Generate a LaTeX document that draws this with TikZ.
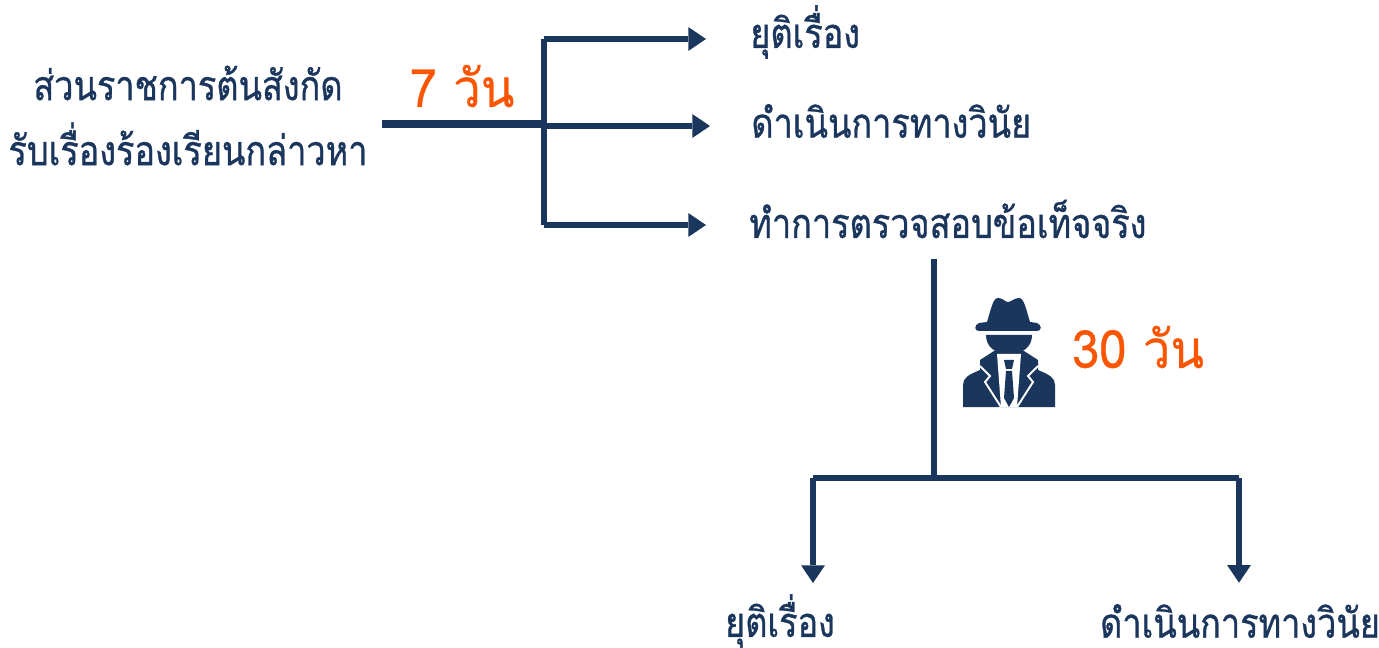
\documentclass[tikz,border=0pt]{standalone}
\usepackage{fontspec}
\newfontfamily\thaifont[Script=Thai,FakeStretch=0.83,FakeBold=0.8]{Loma}
\newfontfamily\daysfont[Script=Thai,FakeStretch=0.93,FakeBold=0.5]{Loma}
\usetikzlibrary{arrows.meta}
\definecolor{navy}{RGB}{27,54,93}
\definecolor{deadline}{RGB}{250,85,0}
\tikzset{
  label/.style={inner sep=0pt,text=navy,font=\thaifont\fontsize{23.5pt}{23.5pt}\selectfont},
  days/.style={inner sep=0pt,text=deadline,font=\daysfont\fontsize{30pt}{30pt}\selectfont},
  branch/.style={navy,line width=3.6pt,line join=round},
  flow/.style={branch,-{Triangle[length=10pt,width=13.5pt,line width=0pt]}}
}
\begin{document}
\begin{tikzpicture}[x=0.02cm,y=-0.02cm]
	\useasboundingbox (0,0) rectangle (1379,648);
	\node[label] (source1) at (188,83) {ส่วนราชการต้นสังกัด};
	\node[label] (source2) at (188,144) {รับเรื่องร้องเรียนกล่าวหา};
	\node[days] (week) at (462,86) {7 วัน};
	\node[days] (month) at (1138,347) {30 วัน};
	\node[label,anchor=west] (stop1) at (750,32) {ยุติเรื่อง};
	\node[label,anchor=west] (act1) at (751,121) {ดำเนินการทางวินัย};
	\node[label,anchor=west] (probe) at (749,219) {ทำการตรวจสอบข้อเท็จจริง};
	\node[label] (stop2) at (780,621) {ยุติเรื่อง};
	\node[label] (act2) at (1240,621) {ดำเนินการทางวินัย};
	\coordinate (start) at (382,124);
	\coordinate (joint) at (544,124);
	\coordinate (mid) at (544,126);
	\coordinate (top) at (544,39);
	\coordinate (low) at (544,225);
	\coordinate (drop) at (934,259);
	\coordinate (fork) at (934,478);
	\coordinate (forkl) at (813,478);
	\coordinate (forkr) at (1239,478);
	% first split
	\draw[branch,line width=4pt] (start)--(joint);
	\draw[branch] (top)--(low);
	\draw[flow,shorten >=0.88cm] (top)--(top-|stop1.west);
	\draw[flow,shorten >=0.82cm] (mid)--(mid-|act1.west);
	\draw[flow,shorten >=0.86cm] (low)--(low-|probe.west);
	% second split
	\draw[branch] (drop)--(fork);
	\draw[branch] (forkl)--(forkr);
	\draw[flow,shorten >=0.22cm] (forkl)--(forkl|-stop2.north);
	\draw[flow,shorten >=0.42cm] (forkr)--(forkr|-act2.north);
	% figure in hat
	\fill[navy] (987,322) .. controls (991,309) and (993,298) .. (998,298) .. controls (1003,298) and (1005,302) .. (1008,302) .. controls (1011,302) and (1014,298) .. (1019,298) .. controls (1024,298) and (1026,309) .. (1030,322) -- (1037,323) .. controls (1042,325) and (1042,331) .. (1037,331) -- (979,331) .. controls (974,331) and (974,325) .. (979,323) -- cycle;
	\fill[navy] (986,335) -- (1032,335) .. controls (1032,346) and (1024,354) .. (1009,354) .. controls (994,354) and (986,346) .. (986,335) -- cycle;
	\fill[navy] (963,407) -- (963,385) .. controls (963,378) and (968,375) .. (980,370) -- (1038,370) .. controls (1050,375) and (1055,378) .. (1055,385) -- (1055,407) -- cycle;
	\fill[navy] (980,360) -- (994,351) -- (1024,351) -- (1038,360) -- (1038,372) -- (980,372) -- cycle;
	\fill[white] (997,354) -- (1021,354) -- (1017,407) -- (1001,407) -- cycle;
	\fill[navy] (1004,360) -- (1014,360) -- (1012,369) -- (1006,369) -- cycle;
	\fill[navy] (1006,371) -- (1012,371) -- (1014,398) -- (1009,407) -- (1004,398) -- cycle;
	\draw[white,line width=1.1pt] (980,366) -- (990,376) -- (985,382) -- (1001,407);
	\draw[white,line width=1.1pt] (1038,366) -- (1028,376) -- (1033,382) -- (1017,407);
\end{tikzpicture}
\end{document}
